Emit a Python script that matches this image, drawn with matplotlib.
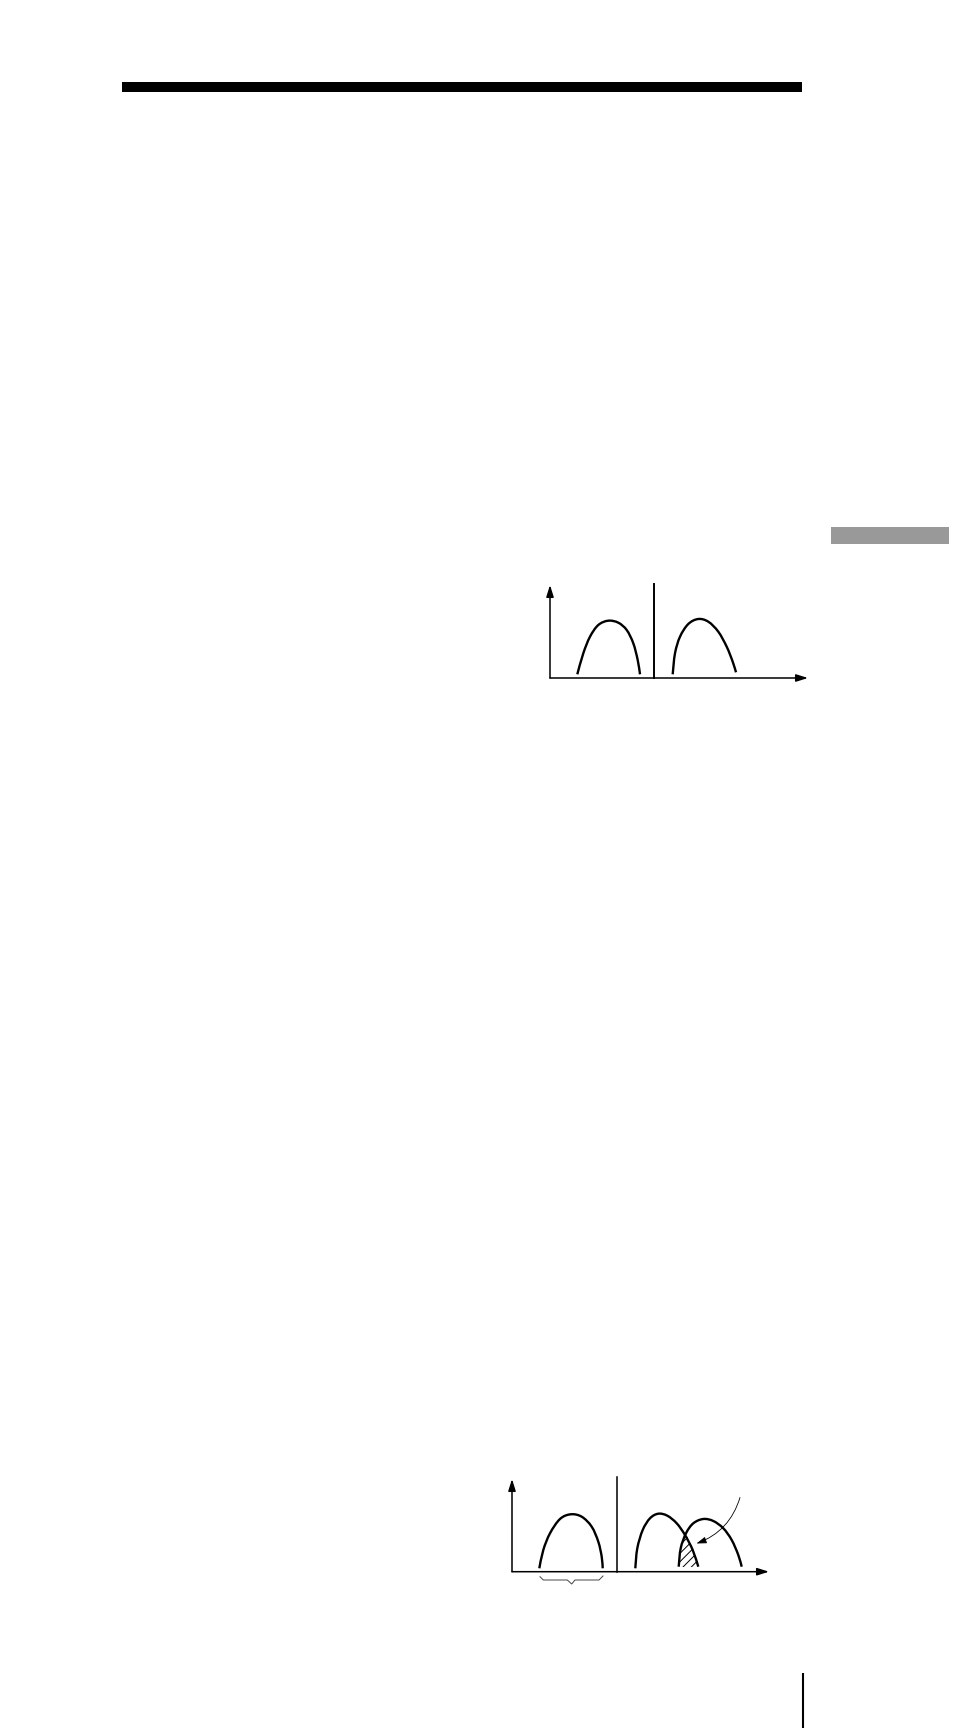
import matplotlib
matplotlib.use("Agg")
import numpy as np
import matplotlib.pyplot as plt
from matplotlib.patches import Rectangle, FancyArrowPatch, PathPatch
from matplotlib.path import Path

W, H = 954, 1728

# page furniture (pixel coords, y down)
top_bar = (122, 82, 802, 92)
side_tab = (831, 527, 949, 544)
page_mark = (803.5, 1673, 1728)

# --- diagram 1: two separate arches ---
d1_origin = (550, 678)
d1_ytip = 585
d1_xtip = 808
d1_divider = (654, 584)
d1_arch_left_x = [577.3, 583.3, 590.0, 598.3, 608.3, 618.3, 626.7, 633.3, 637.7, 640.0]
d1_arch_left_y = [674.3, 653.3, 636.7, 625.0, 620.7, 622.7, 630.0, 643.3, 660.0, 674.3]
d1_arch_right_x = [672.7, 675.0, 680.0, 688.3, 698.3, 708.3, 718.3, 726.7, 732.7, 736.0]
d1_arch_right_y = [674.3, 653.3, 636.7, 624.0, 619.0, 621.7, 631.7, 646.7, 661.7, 672.3]

# --- diagram 2: single arch vs overlapping arches ---
d2_origin = (512, 1571.7)
d2_ytip = 1479
d2_xtip = 769
d2_divider = (616.7, 1477)
d2_arch_a_x = [539.3, 543.3, 550.0, 560.0, 570.7, 581.7, 591.7, 598.3, 601.7, 602.7]
d2_arch_a_y = [1568.3, 1550.0, 1533.3, 1519.0, 1514.3, 1516.7, 1526.7, 1541.7, 1556.7, 1568.3]
d2_arch_b_x = [635.3, 637.3, 642.7, 650.0, 658.3, 667.3, 676.7, 685.0, 692.7, 698.3]
d2_arch_b_y = [1568.3, 1548.3, 1530.0, 1518.3, 1513.7, 1515.7, 1523.3, 1535.0, 1550.0, 1566.7]
d2_arch_c_x = [678.7, 680.7, 686.0, 693.3, 703.3, 713.3, 723.3, 731.7, 738.3, 741.7]
d2_arch_c_y = [1566.7, 1548.3, 1533.3, 1523.3, 1519.0, 1521.0, 1528.3, 1540.0, 1555.0, 1566.7]
overlap_x = [678.7, 680.7, 685.5, 692.7, 698.3]
overlap_y = [1567.0, 1548.3, 1534.5, 1550.0, 1567.0]
note_arrow = ((740, 1497.5), (696.5, 1543.5))
brace_x = [540.0, 543.3, 567.3, 571.7, 575.0, 599.0, 603.0]
brace_y = [1576.7, 1580.0, 1580.0, 1584.0, 1580.0, 1580.0, 1576.0]

plt.rcParams['hatch.linewidth'] = 0.7

fig = plt.figure(figsize=(W / 100, H / 100), dpi=100)
ax = fig.add_axes([0, 0, 1, 1])
ax.set_xlim(0, W)
ax.set_ylim(H, 0)
ax.axis('off')


def rect(box, color):
    x0, y0, x1, y1 = box
    ax.add_patch(Rectangle((x0, y0), x1 - x0, y1 - y0, facecolor=color, edgecolor='none'))


def axes_arrows(origin, ytip, xtip):
    ox, oy = origin
    for tip in [(ox, ytip), (xtip, oy)]:
        ax.add_patch(FancyArrowPatch((ox, oy), tip, arrowstyle='-|>,head_length=7,head_width=2.2',
                                     mutation_scale=1, lw=1.1, color='black',
                                     shrinkA=0, shrinkB=0))


def smooth_path(xs, ys, closed=False):
    # Catmull-Rom through the read points, drawn as cubic bezier segments
    p = np.column_stack([xs, ys])
    ext = np.vstack([p[0], p, p[-1]])
    verts = [p[0]]
    for i in range(1, len(ext) - 2):
        p0, p1, p2, p3 = ext[i - 1], ext[i], ext[i + 1], ext[i + 2]
        verts += [p1 + (p2 - p0) / 6, p2 - (p3 - p1) / 6, p2]
    codes = [Path.MOVETO] + [Path.CURVE4] * (len(verts) - 1)
    if closed:
        verts.append(p[0])
        codes.append(Path.CLOSEPOLY)
    return Path(verts, codes)


def arch(xs, ys):
    ax.add_patch(PathPatch(smooth_path(xs, ys), facecolor='none', edgecolor='black',
                           lw=1.7, capstyle='butt'))


rect(top_bar, 'black')
rect(side_tab, '#999999')
ax.plot([page_mark[0]] * 2, page_mark[1:], color='black', lw=1.5, solid_capstyle='butt')

# diagram 1
axes_arrows(d1_origin, d1_ytip, d1_xtip)
ax.plot([d1_divider[0]] * 2, [d1_divider[1], d1_origin[1]], color='black', lw=1.4)
arch(d1_arch_left_x, d1_arch_left_y)
arch(d1_arch_right_x, d1_arch_right_y)

# diagram 2
axes_arrows(d2_origin, d2_ytip, d2_xtip)
ax.plot([d2_divider[0]] * 2, [d2_divider[1], d2_origin[1]], color='black', lw=1.1)
ax.add_patch(PathPatch(smooth_path(overlap_x, overlap_y, closed=True), facecolor='none',
                       edgecolor='black', lw=0, hatch='////'))
for xs, ys in [(d2_arch_a_x, d2_arch_a_y), (d2_arch_b_x, d2_arch_b_y), (d2_arch_c_x, d2_arch_c_y)]:
    arch(xs, ys)
ax.add_patch(FancyArrowPatch(note_arrow[0], note_arrow[1], connectionstyle='arc3,rad=-0.25',
                             arrowstyle='-|>,head_length=6,head_width=2', mutation_scale=1,
                             lw=0.6, color='black', shrinkA=0, shrinkB=0))
ax.plot(brace_x, brace_y, color='#444444', lw=0.7)

fig.savefig('out.png', dpi=100)
